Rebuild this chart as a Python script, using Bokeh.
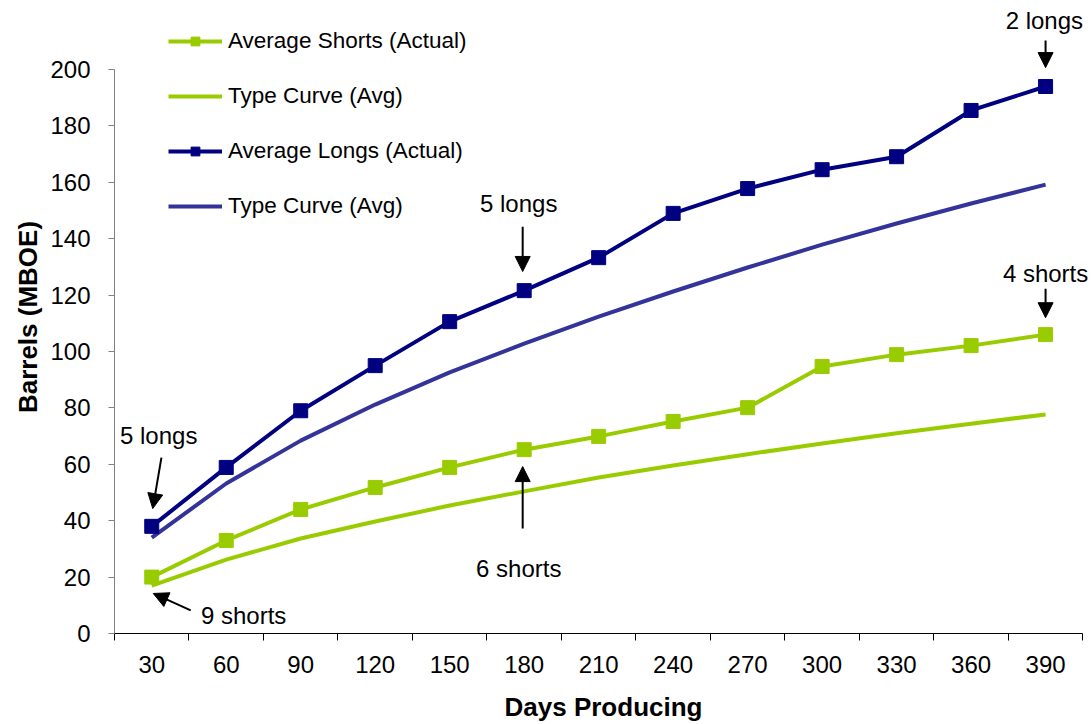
from bokeh.plotting import figure
from bokeh.models import (Range1d, FixedTicker, Legend, LegendItem, Arrow, NormalHead, Label)
from bokeh.embed import file_html
from bokeh.resources import INLINE

days = [30, 60, 90, 120, 150, 180, 210, 240, 270, 300, 330, 360, 390]
shorts_actual = [20, 33, 44, 51.8, 58.9, 65.2, 69.9, 75.2, 80.1, 94.7, 98.9, 102.1, 106]
shorts_type = [17, 26.2, 33.7, 39.7, 45.4, 50.4, 55.3, 59.6, 63.6, 67.4, 71, 74.4, 77.7]
longs_actual = [38, 58.9, 79, 95, 110.6, 121.6, 133.3, 149, 157.8, 164.5, 169.1, 185.5, 194]
longs_type = [34, 53.2, 68.4, 81.2, 92.6, 102.8, 112.4, 121.3, 129.8, 137.9, 145.4, 152.5, 159.2]
y_ticks = [0, 20, 40, 60, 80, 100, 120, 140, 160, 180, 200]

GREEN = "#99CC00"
NAVY = "#000080"
BLUE = "#333399"
FONT = "Liberation Sans"

p = figure(width=1092, height=724, output_backend="svg", toolbar_location=None,
           x_range=Range1d(15, 408.9), y_range=Range1d(0, 224.5),
           min_border_left=114, min_border_right=0, min_border_top=0, min_border_bottom=91)
p.outline_line_color = None
p.xgrid.visible = False
p.ygrid.visible = False
p.background_fill_color = "white"
p.border_fill_color = "white"

# axes
step = days[1] - days[0]
p.xaxis.ticker = FixedTicker(ticks=days, minor_ticks=[d - step / 2 for d in days] + [days[-1] + step / 2])
p.xaxis.bounds = (days[0] - step / 2, days[-1] + step / 2)
p.xaxis.major_tick_out = 0
p.xaxis.major_tick_in = 0
p.xaxis.minor_tick_out = 7
p.xaxis.minor_tick_in = 0
p.xaxis.minor_tick_line_color = "black"
p.xaxis.axis_line_color = "black"
p.xaxis.major_label_standoff = 15
p.xaxis.major_label_text_font = FONT
p.xaxis.major_label_text_font_size = "24px"
p.xaxis.major_label_text_color = "black"
p.xaxis.axis_label = "Days Producing"
p.xaxis.axis_label_text_font = FONT
p.xaxis.axis_label_text_font_size = "26px"
p.xaxis.axis_label_text_font_style = "bold"
p.xaxis.axis_label_text_color = "black"
p.xaxis.axis_label_standoff = 16

p.yaxis.ticker = FixedTicker(ticks=y_ticks, minor_ticks=[])
p.yaxis.bounds = (0, 200)
p.yaxis.axis_line_color = "#808080"
p.yaxis.major_tick_line_color = "#808080"
p.yaxis.major_tick_out = 6
p.yaxis.major_tick_in = 0
p.yaxis.minor_tick_out = 0
p.yaxis.major_label_standoff = 18
p.yaxis.major_label_text_font = FONT
p.yaxis.major_label_text_font_size = "24px"
p.yaxis.major_label_text_color = "black"
p.yaxis.axis_label = "Barrels (MBOE)"
p.yaxis.axis_label_text_font = FONT
p.yaxis.axis_label_text_font_size = "26px"
p.yaxis.axis_label_text_font_style = "bold"
p.yaxis.axis_label_text_color = "black"
p.yaxis.axis_label_standoff = 4

# series
r_st = p.line(days, shorts_type, line_color=GREEN, line_width=4)
r_lt = p.line(days, longs_type, line_color=BLUE, line_width=4)
r_sa = p.line(days, shorts_actual, line_color=GREEN, line_width=4)
m_sa = p.scatter(days, shorts_actual, marker="square", size=14, fill_color=GREEN, line_color=GREEN)
r_la = p.line(days, longs_actual, line_color=NAVY, line_width=4)
m_la = p.scatter(days, longs_actual, marker="square", size=14, fill_color=NAVY, line_color=NAVY)

legend = Legend(items=[
    LegendItem(label="Average Shorts (Actual)", renderers=[r_sa, m_sa]),
    LegendItem(label="Type Curve (Avg)", renderers=[r_st]),
    LegendItem(label="Average Longs (Actual)", renderers=[r_la, m_la]),
    LegendItem(label="Type Curve (Avg)", renderers=[r_lt]),
], location=(54, 414))
legend.border_line_color = None
legend.background_fill_alpha = 0
legend.padding = 0
legend.margin = 0
legend.spacing = 29
legend.glyph_width = 54
legend.glyph_height = 22
legend.label_height = 22
legend.label_standoff = 6
legend.label_text_font = FONT
legend.label_text_font_size = "22.5px"
legend.label_text_color = "black"
p.add_layout(legend)

# annotations
notes = ["5 longs", "9 shorts", "5 longs", "6 shorts", "2 longs", "4 shorts"]
note_pos = [(32.8, 70.2), (67.0, 6.4), (177.8, 152.5), (177.8, 23), (389.5, 217.4), (390, 127.7)]
arrows = [((33.9, 62.4), (30.4, 44.3)), ((45.7, 8.2), (30.6, 14.2)), ((179.4, 144.3), (179.4, 128.4)),
          ((179.4, 37.2), (179.4, 59.2)), ((390, 210.3), (390, 200.7)), ((390, 122.3), (390, 112))]
for txt, (x, y) in zip(notes, note_pos):
    p.add_layout(Label(x=x, y=y, text=txt, text_align="center", text_baseline="middle",
                       text_font=FONT, text_font_size="24px", text_color="black"))
for (x0, y0), (x1, y1) in arrows:
    p.add_layout(Arrow(x_start=x0, y_start=y0, x_end=x1, y_end=y1, line_width=2, line_color="black",
                       end=NormalHead(size=15, fill_color="black", line_color="black")))

open("out.html", "w").write(file_html(p, INLINE))
